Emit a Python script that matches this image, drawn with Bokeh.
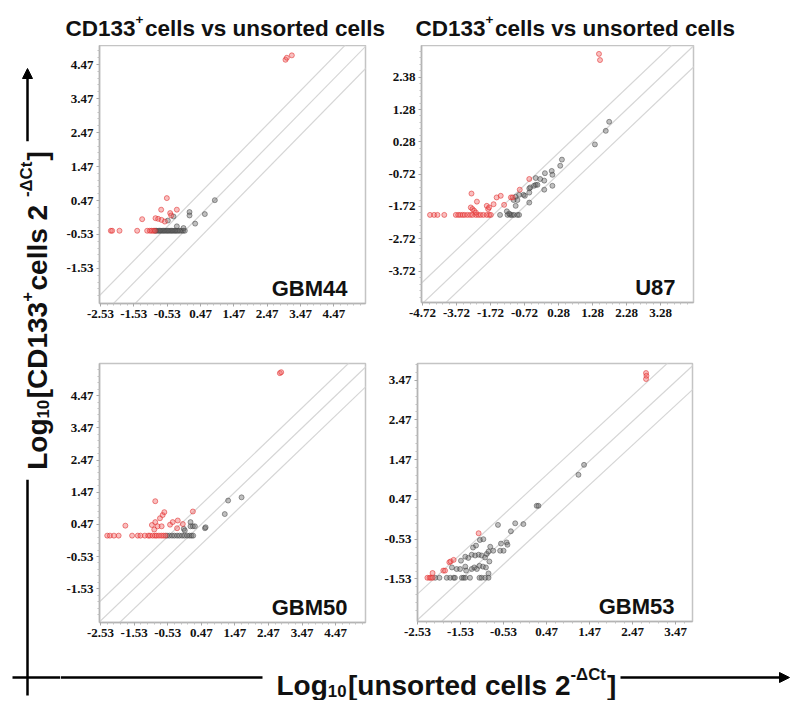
import numpy as np
from bokeh.plotting import figure
from bokeh.models import Range1d, FixedTicker, Label, Arrow, NormalHead
from bokeh.layouts import row, column
from bokeh.embed import file_html
from bokeh.resources import INLINE
from bokeh.core.properties import value

# ---------------- data ----------------
title_pieces = [("CD133", "n"), ("+", "sup"), (" cells vs unsorted cells", "n")]
ylab_pieces = [("Log", "n"), ("10", "sub"), ("[CD133", "n"), ("+", "sup"), (" cells 2", "n"), ("-\u0394Ct", "sup"), ("]", "n")]
xlab_pieces = [("Log", "n"), ("10", "sub"), ("[unsorted cells 2", "n"), ("-\u0394Ct", "sup"), ("]", "n")]

# GBM44
gbm44_xticks = [-2.53, -1.53, -0.53, 0.47, 1.47, 2.47, 3.47, 4.47]
gbm44_xlabels = ["-2.53", "-1.53", "-0.53", "0.47", "1.47", "2.47", "3.47", "4.47"]
gbm44_yticks = [-1.53, -0.53, 0.47, 1.47, 2.47, 3.47, 4.47]
gbm44_ylabels = ["-1.53", "-0.53", "0.47", "1.47", "2.47", "3.47", "4.47"]
gbm44_red_x = [-2.22, -2.18, -1.96, -1.43, -1.13, -1.05, -1.00, -0.95, -0.90,
               -1.28, -0.71, -0.88, -0.80, -0.70, -0.60, -0.54, -0.44, -0.41, -0.24,
               3.02, 3.06, 3.21]
gbm44_red_y = [-0.42, -0.42, -0.42, -0.42, -0.42, -0.42, -0.42, -0.42, -0.42,
               -0.08, 0.20, -0.05, -0.07, -0.10, -0.15, 0.54, 0.10, 0.03, 0.20,
               4.61, 4.67, 4.74]
gbm44_gray_x = [-0.89, -0.85, -0.80, -0.76, -0.72, -0.68, -0.64, -0.60, -0.56, -0.52, -0.48,
                -0.44, -0.40, -0.36, -0.32, -0.28, -0.24, -0.20, -0.15, -0.10, -0.05, 0.00,
                -0.51, -0.34, -0.24, -0.04, 0.14, 0.14, 0.31, 0.60, 0.90]
gbm44_gray_y = [-0.42, -0.42, -0.42, -0.42, -0.42, -0.42, -0.42, -0.42, -0.42, -0.42, -0.42,
                -0.42, -0.42, -0.42, -0.42, -0.42, -0.42, -0.42, -0.42, -0.42, -0.42, -0.42,
                -0.12, 0.00, -0.29, -0.34, 0.13, 0.03, -0.21, 0.07, 0.48]
gbm44_folds = [0.23, -0.42, -1.07]

# U87
u87_xticks = [-4.72, -3.72, -2.72, -1.72, -0.72, 0.28, 1.28, 2.28]
u87_xlabels = ["-4.72", "-3.72", "-1.72", "-0.72", "0.28", "1.28", "2.28", "3.28"]
u87_yticks = [-3.72, -2.72, -1.72, -0.72, 0.28, 1.28, 2.28]
u87_ylabels = ["-3.72", "-2.72", "-1.72", "-0.72", "0.28", "1.28", "2.38"]
u87_red_x = [-4.50, -4.38, -4.28, -4.08, -3.74, -3.67, -3.61, -3.54, -3.48, -3.40, -3.32, -3.25,
             -3.15, -3.08, -3.01, -2.93, -2.83, -2.76, -2.71,
             -3.28, -3.12, -3.30, -3.25, -3.20, -3.15, -2.83, -2.79, -2.76, -2.63, -2.54, -2.42,
             -2.32, -2.12, -2.07, -1.86, -1.58, 0.47, 0.50]
u87_red_y = [-1.98, -1.98, -1.98, -1.98, -1.98, -1.98, -1.98, -1.98, -1.98, -1.98, -1.98, -1.98,
             -1.98, -1.98, -1.98, -1.98, -1.98, -1.98, -1.98,
             -1.32, -1.57, -1.75, -1.80, -1.85, -1.91, -1.70, -1.80, -1.75, -1.65, -1.44, -1.39,
             -1.67, -1.44, -1.44, -1.20, -0.87, 3.00, 2.81]
u87_gray_x = [-2.44, -2.22, -2.14, -2.09, -2.03, -1.93, -1.88, -2.24, -2.17, -1.98, -2.04, -1.98,
              -1.93, -1.88, -1.75, -1.71, -1.58, -1.58, -1.58, -1.55, -1.44, -1.39, -1.34, -1.39,
              -1.26, -1.14, -1.14, -1.12, -0.92, -0.90, -0.90, -0.67, -0.62, 0.35, 0.67, 0.77]
u87_gray_y = [-1.98, -1.98, -1.98, -1.98, -1.98, -1.98, -1.98, -1.87, -1.94, -1.70, -1.52, -1.42,
              -1.52, -1.36, -1.36, -1.39, -1.29, -1.60, -1.16, -1.13, -1.08, -1.05, -1.05, -0.84,
              -0.87, -0.92, -1.20, -0.69, -0.62, -0.74, -1.08, -0.46, -0.27, 0.20, 0.62, 0.90]
u87_folds = [0.66, 0.0, -0.66]

# GBM50
gbm50_xticks = [-2.53, -1.53, -0.53, 0.47, 1.47, 2.47, 3.47, 4.47]
gbm50_xlabels = ["-2.53", "-1.53", "-0.53", "0.47", "1.47", "2.47", "3.47", "4.47"]
gbm50_yticks = [-1.53, -0.53, 0.47, 1.47, 2.47, 3.47, 4.47]
gbm50_ylabels = ["-1.53", "-0.53", "0.47", "1.47", "2.47", "3.47", "4.47"]
gbm50_red_x = [-2.33, -2.25, -2.13, -1.99, -1.59, -1.42, -1.34, -1.21, -1.11, -1.06, -0.98, -0.91,
               -0.86, -0.79, -0.72, -0.66, -0.60,
               -1.79, -0.90, -1.00, -0.90, -0.83, -0.76, -0.68, -0.63, -0.71, -0.46, -0.38, -0.23,
               -0.25, -0.08, 0.22, -0.93, 2.81, 2.85]
gbm50_red_y = [0.12, 0.12, 0.12, 0.12, 0.12, 0.12, 0.12, 0.12, 0.12, 0.12, 0.12, 0.12,
               0.12, 0.12, 0.12, 0.12, 0.12,
               0.43, 1.19, 0.45, 0.54, 0.41, 0.66, 0.76, 0.85, 0.41, 0.46, 0.54, 0.59,
               0.35, 0.48, 0.87, 0.31, 5.17, 5.20]
gbm50_gray_x = [-0.55, -0.48, -0.40, -0.33, -0.25, -0.18, -0.10, -0.03, 0.05, 0.12, 0.18, 0.23,
                -0.05, -0.02, 0.15, 0.15, 0.22, 0.28, 0.58, 0.60, 1.17, 1.27, 1.67]
gbm50_gray_y = [0.12, 0.12, 0.12, 0.12, 0.12, 0.12, 0.12, 0.12, 0.12, 0.12, 0.12, 0.12,
                0.33, 0.28, 0.54, 0.41, 0.41, 0.41, 0.35, 0.38, 0.79, 1.21, 1.31]
gbm50_folds = [0.62, 0.0, -0.62]

# GBM53
gbm53_xticks = [-2.53, -1.53, -0.53, 0.47, 1.47, 2.47, 3.47]
gbm53_xlabels = ["-2.53", "-1.53", "-0.53", "0.47", "1.47", "2.47", "3.47"]
gbm53_yticks = [-1.53, -0.53, 0.47, 1.47, 2.47, 3.47]
gbm53_ylabels = ["-1.53", "-0.53", "0.47", "1.47", "2.47", "3.47"]
gbm53_red_x = [-2.30, -2.25, -2.22, -2.18, -2.18, -1.93, -1.89, -1.79, -1.76, -1.69, -1.11,
               2.78, 2.79, 2.78]
gbm53_red_y = [-1.50, -1.50, -1.50, -1.50, -1.38, -1.32, -1.32, -1.11, -1.09, -1.05, -0.38,
               3.65, 3.58, 3.50]
gbm53_gray_x = [-2.12, -2.02, -1.85, -1.77, -1.69, -1.66, -1.50, -1.46, -1.42, -1.31, -1.09, -1.04,
                -0.96, -0.88, -0.88, -1.73, -1.62, -1.54, -1.42, -1.40, -1.27, -1.21, -1.15, -1.09,
                -1.01, -0.94, -0.86, -1.52, -1.42, -1.35, -1.27, -1.19, -1.11, -1.04, -0.96, -0.92,
                -0.88, -0.84, -1.24, -1.17, -1.08, -1.00, -0.77, -0.61, -0.53, -0.59, -0.46, -0.44,
                -0.66, -0.36, -0.26, -0.07, 0.24, 0.28, 1.21, 1.34]
gbm53_gray_y = [-1.50, -1.50, -1.50, -1.50, -1.50, -1.50, -1.50, -1.50, -1.50, -1.50, -1.50, -1.50,
                -1.50, -1.50, -1.39, -1.24, -1.28, -1.28, -1.22, -1.32, -1.28, -1.24, -1.28, -1.20,
                -1.22, -1.24, -1.09, -1.07, -0.97, -1.00, -0.92, -0.94, -0.92, -0.94, -0.99, -0.90,
                -0.84, -0.72, -0.74, -0.69, -0.55, -0.53, -0.82, -0.82, -0.82, -0.64, -0.61, -0.67,
                -0.17, -0.33, -0.13, -0.15, 0.31, 0.31, 1.09, 1.34]
gbm53_folds = [0.62, -0.03, -0.63]

# ---------------- styling helpers ----------------
SANS_NAME = "Liberation Sans"
SANS = value(SANS_NAME)
SERIF = "Liberation Serif"
AW = {' ': 278, '+': 584, '-': 333, '.': 278, '[': 333, ']': 333, 'C': 722, 'D': 722, 'L': 611,
      'c': 556, 'd': 611, 'e': 556, 'g': 611, 'l': 278, 'n': 611, 'o': 611, 'r': 389, 's': 556,
      't': 333, 'u': 611, 'v': 556, '\u0394': 700}


def tw(s, size):
    return sum(AW.get(ch, 556) for ch in s) / 1000.0 * size


def piece_len(pieces, size):
    return sum(tw(t, size if k == "n" else size * 0.6) + (0 if k == "n" else 1.5) for t, k in pieces)


def rich(p, pieces, x, y, size, vertical=False, color="#111111"):
    pos = 0.0
    for txt, kind in pieces:
        fs = size if kind == "n" else size * 0.6
        shift = 0.0 if kind == "n" else (-0.2 * size if kind == "sub" else 0.38 * size)
        if vertical:
            p.text(x=[x - shift], y=[y + pos], text=[txt], angle=np.pi / 2,
                   text_font=SANS, text_font_style="bold", text_font_size=f"{fs:.1f}px",
                   text_align="left", text_baseline="alphabetic", text_color=color)
        else:
            p.text(x=[x + pos], y=[y + shift], text=[txt], angle=0,
                   text_font=SANS, text_font_style="bold", text_font_size=f"{fs:.1f}px",
                   text_align="left", text_baseline="alphabetic", text_color=color)
        pos += tw(txt, fs) + (0 if kind == "n" else 1.5)
    return pos


def deco(x0, x1, y0, y1):
    # figure in page pixel coordinates (y measured downward, stored negated)
    p = figure(frame_width=x1 - x0, frame_height=y1 - y0,
               x_range=Range1d(x0, x1), y_range=Range1d(-y1, -y0),
               output_backend="svg", toolbar_location=None,
               x_axis_type=None, y_axis_type=None,
               min_border=0, min_border_left=0, min_border_right=0,
               min_border_top=0, min_border_bottom=0)
    p.outline_line_color = None
    p.xgrid.visible = False
    p.ygrid.visible = False
    p.background_fill_color = "white"
    return p


def minor(ticks, n=5):
    step = ticks[1] - ticks[0]
    out = []
    for t in [ticks[0] - step] + list(ticks):
        for k in range(1, n):
            out.append(t + step * k / n)
    return out


def panel(name, xr, yr, xt, xl, yt, yl, fw, fh, bl, bt, br, bb, rx, ry, gx, gy, folds):
    p = figure(frame_width=fw, frame_height=fh, x_range=Range1d(*xr), y_range=Range1d(*yr),
               output_backend="svg", toolbar_location=None,
               min_border_left=bl, min_border_top=bt, min_border_right=br, min_border_bottom=bb)
    p.xgrid.visible = False
    p.ygrid.visible = False
    p.outline_line_color = "#c4c4c4"
    p.outline_line_width = 1.5
    p.xaxis.ticker = FixedTicker(ticks=xt, minor_ticks=minor(xt))
    p.yaxis.ticker = FixedTicker(ticks=yt, minor_ticks=minor(yt))
    p.xaxis.major_label_overrides = {t: l for t, l in zip(xt, xl)}
    p.yaxis.major_label_overrides = {t: l for t, l in zip(yt, yl)}
    for ax in (p.xaxis[0], p.yaxis[0]):
        ax.axis_line_color = "#b4b4b4"
        ax.axis_line_width = 1.5
        ax.major_tick_line_color = "#a8a8a8"
        ax.minor_tick_line_color = "#c0c0c0"
        ax.major_tick_out = 3
        ax.major_tick_in = 0
        ax.minor_tick_out = 2
        ax.minor_tick_in = 0
        ax.major_label_standoff = 3
        ax.major_label_text_font = SERIF
        ax.major_label_text_font_style = "bold"
        ax.major_label_text_font_size = "13px"
        ax.major_label_text_color = "#111111"
    xs = [xr[0] - 1, xr[1] + 1]
    for c in folds:
        p.line(xs, [v + c for v in xs], line_color="#d6d6d6", line_width=1.2)
    p.scatter(gx, gy, size=5, marker="circle", fill_color="#606060", fill_alpha=0.4,
              line_color="#404040", line_alpha=0.5, line_width=1)
    p.scatter(rx, ry, size=5, marker="circle", fill_color="#f06060", fill_alpha=0.4,
              line_color="#e02828", line_alpha=0.55, line_width=1)
    xs_scale = fw / (xr[1] - xr[0])
    ys_scale = fh / (yr[1] - yr[0])
    p.add_layout(Label(x=xr[1] - 18 / xs_scale, y=yr[0] + 15 / ys_scale, text=name,
                       text_align="right", text_baseline="alphabetic",
                       text_font=SANS_NAME, text_font_style="bold", text_font_size="22px",
                       text_color="#111111"))
    return p


# ---------------- panels ----------------
p1 = panel("GBM44", (-2.56, 5.42), (-2.56, 5.03), gbm44_xticks, gbm44_xlabels, gbm44_yticks,
           gbm44_ylabels, 266, 258, 39, 0, 15, 30, gbm44_red_x, gbm44_red_y, gbm44_gray_x,
           gbm44_gray_y, gbm44_folds)
p2 = panel("U87", (-4.75, 3.25), (-4.69, 3.26), u87_xticks, u87_xlabels, u87_yticks, u87_ylabels,
           272, 257, 41, 0, 97, 31, u87_red_x, u87_red_y, u87_gray_x, u87_gray_y, u87_folds)
p3 = panel("GBM50", (-2.56, 5.36), (-2.58, 5.47), gbm50_xticks, gbm50_xlabels, gbm50_yticks,
           gbm50_ylabels, 266, 259, 39, 30, 15, 30, gbm50_red_x, gbm50_red_y, gbm50_gray_x,
           gbm50_gray_y, gbm50_folds)
p4 = panel("GBM53", (-2.53, 3.86), (-2.60, 3.89), gbm53_xticks, gbm53_xlabels, gbm53_yticks,
           gbm53_ylabels, 275, 258, 37, 30, 98, 31, gbm53_red_x, gbm53_red_y, gbm53_gray_x,
           gbm53_gray_y, gbm53_folds)

# ---------------- decorations (page pixel coordinates) ----------------
ptitle = deco(60, 790, 0, 45)
rich(ptitle, title_pieces, 65, -28, 22.5)
rich(ptitle, title_pieces, 415, -28, 22.5)

pleft = deco(0, 60, 0, 700)
ysize = 28
ylen = piece_len(ylab_pieces, ysize)
ymid = -310
rich(pleft, ylab_pieces, 37, ymid - ylen / 2, ysize, vertical=True)
pleft.line([27, 27], [-695, ymid - ylen / 2 - 10], line_color="black", line_width=2.5)
pleft.add_layout(Arrow(end=NormalHead(size=10, fill_color="black", line_color="black"),
                       x_start=27, y_start=ymid + ylen / 2 + 10, x_end=27, y_end=-68,
                       line_color="black", line_width=2.5))
pleft.line([12, 60], [-677, -677], line_color="black", line_width=2.5)

pbot = deco(60, 790, 652, 700)
xsize = 28
rich(pbot, xlab_pieces, 276, -685, xsize)
pbot.line([60, 262], [-677, -677], line_color="black", line_width=2.5)
pbot.add_layout(Arrow(end=NormalHead(size=10, fill_color="black", line_color="black"),
                      x_start=620, y_start=-677, x_end=789, y_end=-677,
                      line_color="black", line_width=2.5))

layout = row(pleft, column(ptitle, row(p1, p2), row(p3, p4), pbot))

open("out.html", "w").write(file_html(layout, INLINE))
